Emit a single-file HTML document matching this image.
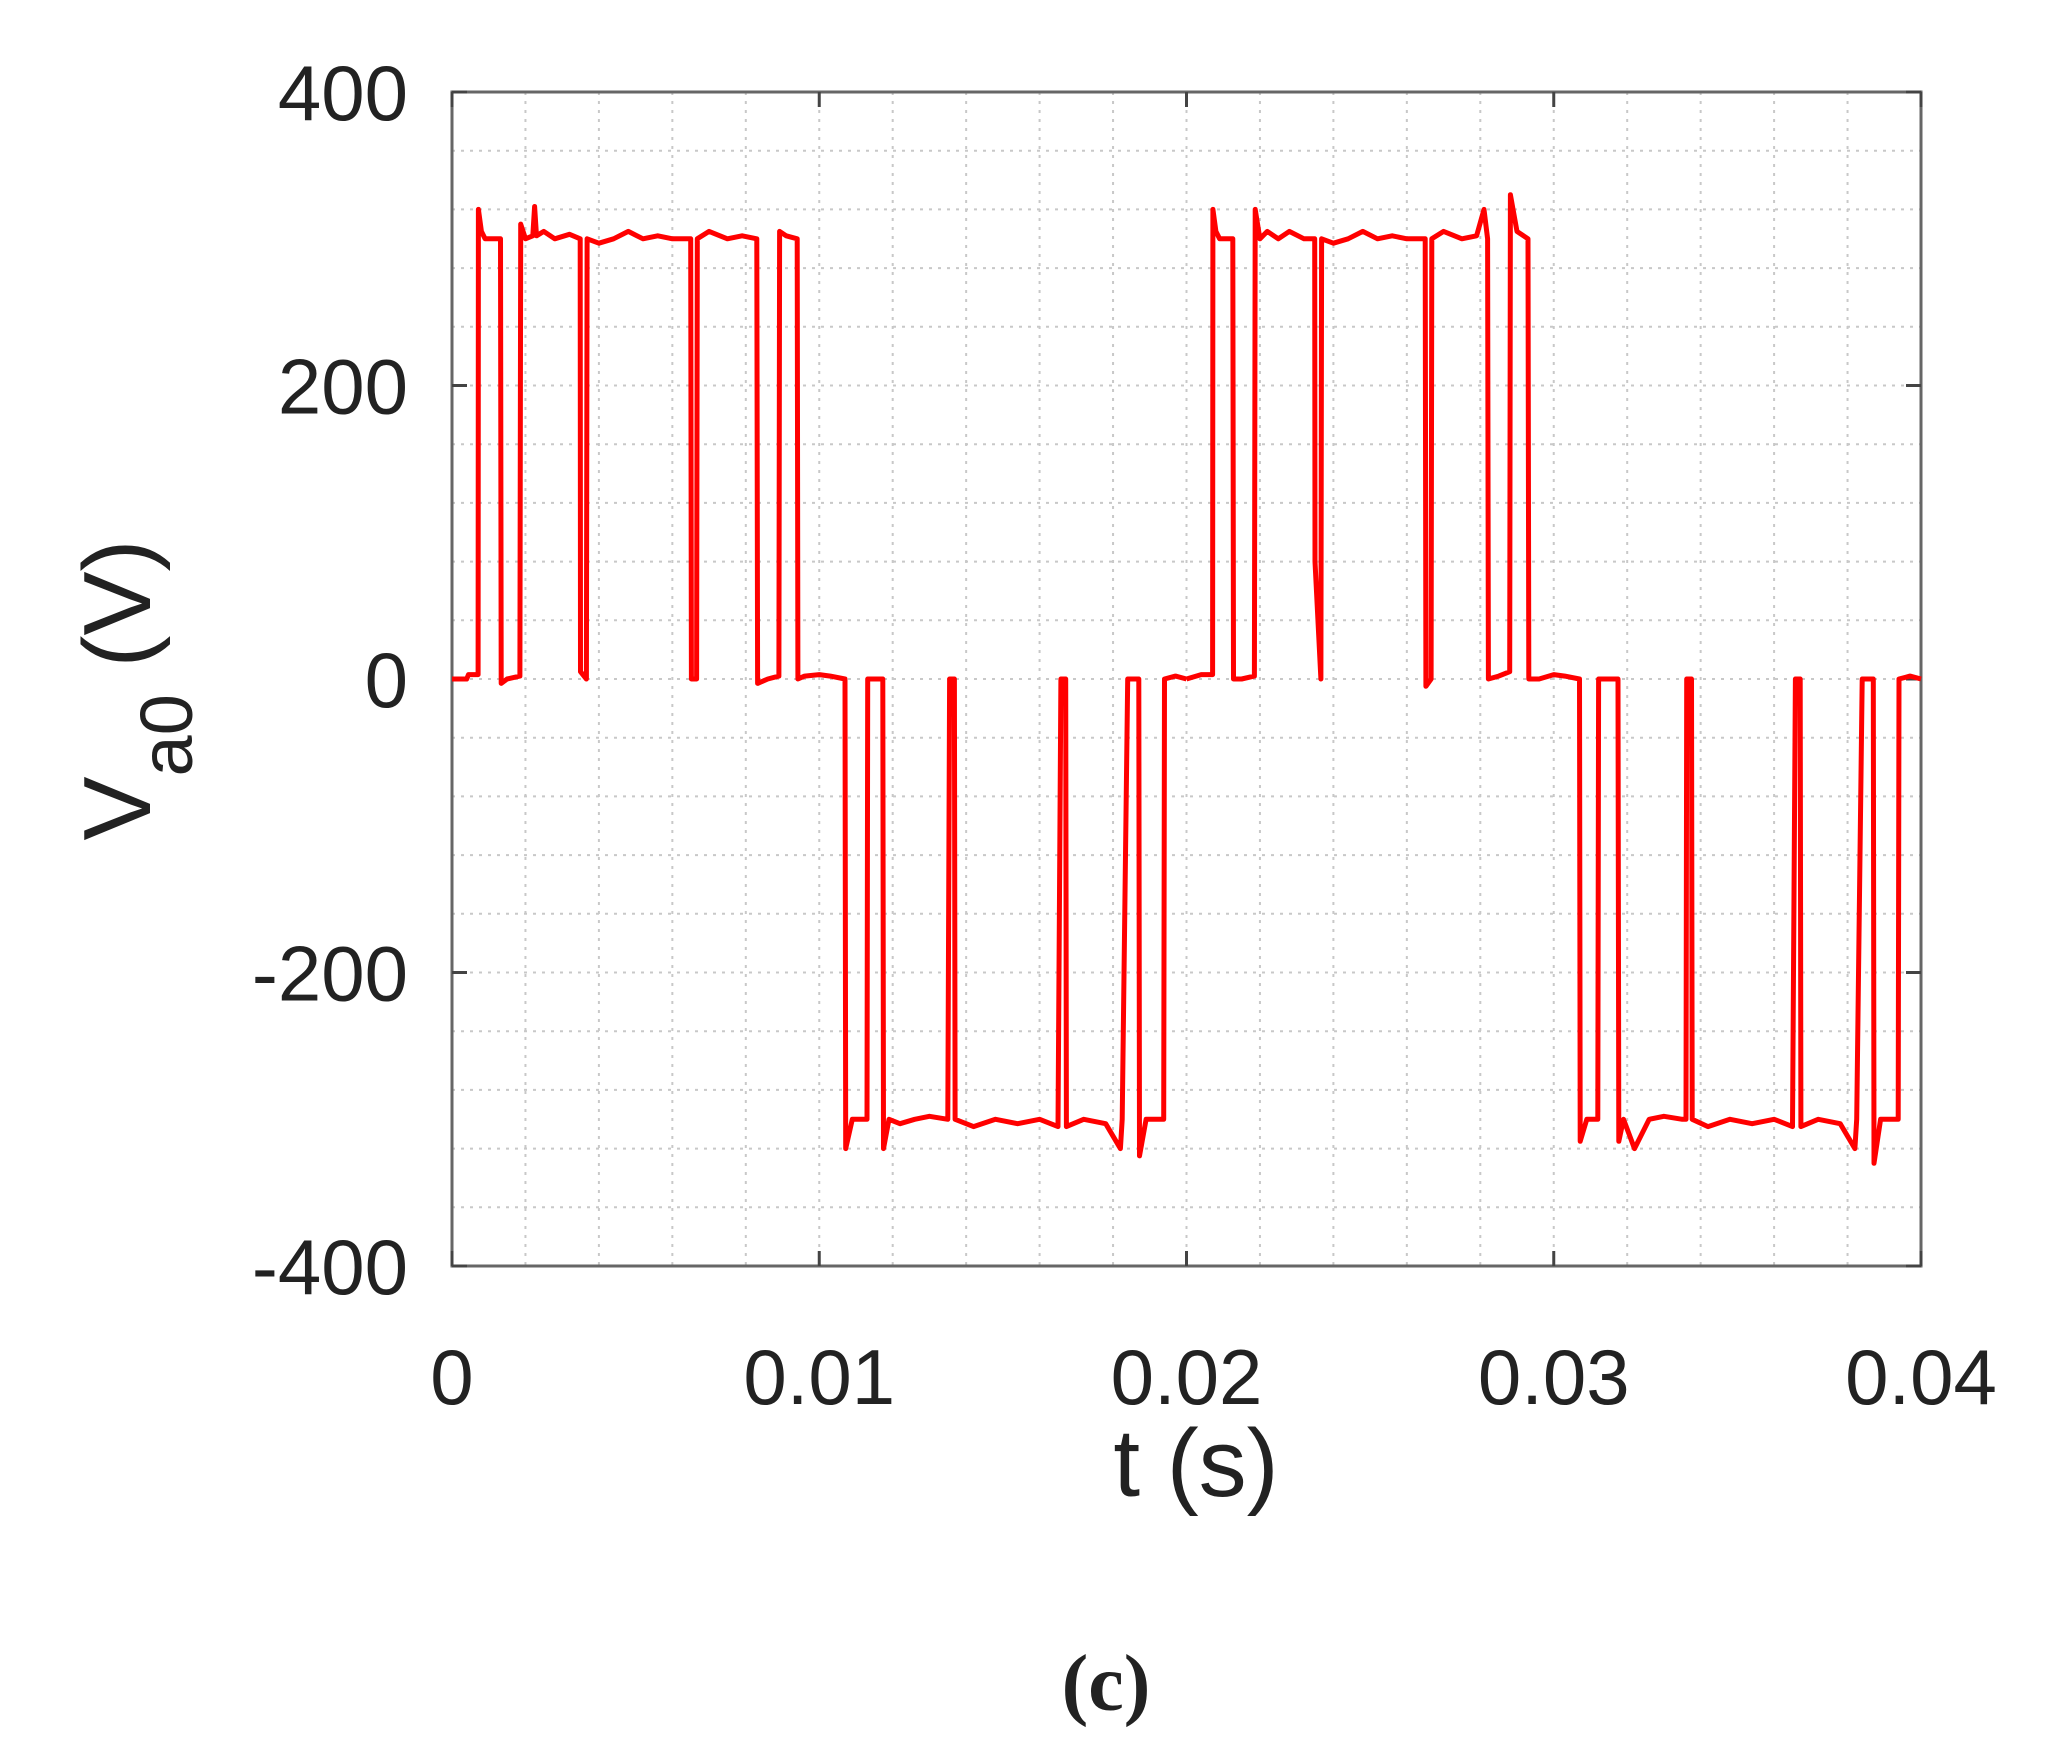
<!DOCTYPE html>
<html><head><meta charset="utf-8"><style>
html,body{margin:0;padding:0;background:#fff;}
svg{display:block;}
text{font-family:"Liberation Sans",sans-serif;fill:#222;}
</style></head><body>
<svg id="chart" width="2057" height="1762" viewBox="0 0 2057 1762" xmlns="http://www.w3.org/2000/svg">
<g id="grid"></g>
<g id="axes"></g>
<g id="series"></g>
<g id="labels"></g>
<text transform="translate(150,690) rotate(-90)" text-anchor="middle" font-size="96">V<tspan font-size="74" dy="42">a0</tspan><tspan dy="-42"> (V)</tspan></text>
<text x="1196" y="1496" text-anchor="middle" font-size="96">t (s)</text>
<text x="1106" y="1710" text-anchor="middle" font-size="80" font-weight="bold" style="font-family:'Liberation Serif',serif">(c)</text>
</svg>
<script>
const xTicks=[0,0.01,0.02,0.03,0.04];
const xTickLabels=["0","0.01","0.02","0.03","0.04"];
const yTicks=[-400,-200,0,200,400];
const yTickLabels=["-400","-200","0","200","400"];
// time in ms
const t1=[0,0.4,0.45,0.71,0.72,0.8,0.9,1.32,1.34,1.5,1.85,1.87,2.0,2.2,2.25,2.3,2.5,2.8,3.2,3.49,3.5,3.66,3.68,4.0,4.4,4.8,5.2,5.6,6.0,6.5,6.52,6.66,6.68,7.0,7.5,7.9,8.3,8.32,8.6,8.9,8.92,9.1,9.4,9.42,9.6,10.0,10.3,10.7,10.72,10.9,11.3,11.32,11.6,11.73,11.75,11.9,12.2,12.6,13.0,13.5,13.55,13.68,13.7,14.2,14.8,15.4,16.0,16.5,16.58,16.71,16.73,17.2,17.8,18.2,18.25,18.4,18.7,18.72,18.9,19.38,19.4,19.7,20];
const v1=[0,0,3,3,320,305,300,300,-3,0,2,310,300,302,322,302,305,300,303,300,5,0,300,297,300,305,300,302,300,300,0,0,300,305,300,302,300,-3,0,2,305,302,300,0,2,3,2,0,-320,-300,-300,0,0,0,-320,-300,-303,-300,-298,-300,0,0,-300,-305,-300,-303,-300,-305,0,0,-305,-300,-303,-320,-300,0,0,-325,-300,-300,0,2,0];
const t2=[20,20.4,20.71,20.72,20.8,20.9,21.26,21.28,21.5,21.85,21.87,22.0,22.2,22.5,22.8,23.2,23.49,23.5,23.66,23.68,24.0,24.4,24.8,25.2,25.6,26.0,26.5,26.52,26.66,26.68,27.0,27.5,27.9,28.1,28.2,28.22,28.5,28.8,28.82,29.0,29.3,29.32,29.6,30.0,30.3,30.7,30.72,30.9,31.2,31.22,31.5,31.75,31.77,31.9,32.2,32.6,33.0,33.5,33.6,33.62,33.75,33.77,34.2,34.8,35.4,36.0,36.5,36.58,36.71,36.73,37.2,37.8,38.2,38.25,38.4,38.7,38.72,38.9,39.38,39.4,39.7,40];
const v2=[0,3,3,320,305,300,300,0,0,2,320,300,305,300,305,300,300,80,0,300,297,300,305,300,302,300,300,-5,0,300,305,300,302,320,300,0,2,5,330,305,300,0,0,3,2,0,-315,-300,-300,0,0,0,-315,-300,-320,-300,-298,-300,-300,0,0,-300,-305,-300,-303,-300,-305,0,0,-305,-300,-303,-320,-300,0,0,-330,-300,-300,0,2,0];

const L=452,R=1921,T=92,B=1266;
const X=t=>L+(t-0)/(0.04)*(R-L);
const Y=v=>B-(v+400)/800*(B-T);
const NS="http://www.w3.org/2000/svg";
function mk(tag,parent,attrs){const e=document.createElementNS(NS,tag);for(const k in attrs)e.setAttribute(k,attrs[k]);parent.appendChild(e);return e;}
const grid=document.getElementById('grid'),axes=document.getElementById('axes'),series=document.getElementById('series'),labels=document.getElementById('labels');
for(let i=0;i<=20;i++){const x=X(i*0.002);
 const g=mk('line',grid,{x1:x,x2:x,y1:T,y2:B,stroke:'#c8c8c8','stroke-width':2,'stroke-dasharray':'3,6'});
 
 }
for(let i=0;i<=20;i++){const y=Y(-400+i*40);
 const g=mk('line',grid,{x1:L,x2:R,y1:y,y2:y,stroke:'#c8c8c8','stroke-width':2,'stroke-dasharray':'3,6'});
 
 }
const box=mk('rect',axes,{x:L,y:T,width:R-L,height:B-T,fill:'none',stroke:'#666','stroke-width':3});


xTicks.forEach((t,i)=>{const x=X(t);
 mk('line',axes,{x1:x,x2:x,y1:B,y2:B-15,stroke:'#444','stroke-width':3});
 mk('line',axes,{x1:x,x2:x,y1:T,y2:T+15,stroke:'#444','stroke-width':3});
 const tx=mk('text',labels,{x:x,y:1404,'text-anchor':'middle','font-size':78});
 tx.textContent=xTickLabels[i];
 
 });
yTicks.forEach((v,i)=>{const y=Y(v);
 mk('line',axes,{x1:L,x2:L+15,y1:y,y2:y,stroke:'#444','stroke-width':3});
 mk('line',axes,{x1:R,x2:R-15,y1:y,y2:y,stroke:'#444','stroke-width':3});
 const tx=mk('text',labels,{x:408,y:y+28,'text-anchor':'end','font-size':78});
 tx.textContent=yTickLabels[i];
 
 });
function draw(ts,vs,name){let d='';ts.forEach((t,i)=>{d+=(i?'L':'M')+X(t/1000).toFixed(1)+','+Y(vs[i]).toFixed(1);});
 const p=mk('path',series,{d:d,fill:'none',stroke:'#ff0000','stroke-width':5,'stroke-linejoin':'round'});
 
 }
draw(t1,v1,'va0-line-cycle1');
draw(t2,v2,'va0-line-cycle2');
</script>
</body></html>
